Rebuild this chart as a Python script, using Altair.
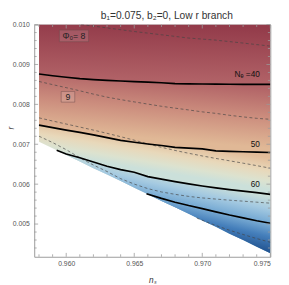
import altair as alt
import pandas as pd

# ---------------- data ----------------
ns_grid = [0.958, 0.959, 0.960, 0.961, 0.962, 0.963, 0.964, 0.965, 0.966,
           0.967, 0.968, 0.969, 0.970, 0.971, 0.972, 0.973, 0.974, 0.975]
r_top = [0.010] * 18
r_edge = [0.00706, 0.00690, 0.00673, 0.00657, 0.00640, 0.00624, 0.00608, 0.00591, 0.00575,
          0.00558, 0.00542, 0.00526, 0.00509, 0.00493, 0.00476, 0.00460, 0.00443, 0.00427]
r_ne40 = [0.008762, 0.008717, 0.008679, 0.008645, 0.008619, 0.008600, 0.008586, 0.008571, 0.008557,
          0.008543, 0.008521, 0.008514, 0.008510, 0.008507, 0.008505, 0.008502, 0.008500, 0.008500]
r_ne50 = [0.007479, 0.007417, 0.007355, 0.007298, 0.007236, 0.007167, 0.007098, 0.007050, 0.007007,
          0.006969, 0.006921, 0.006902, 0.006883, 0.006836, 0.006821, 0.006812, 0.006802, 0.006793]
ns_ne60 = [0.9593, 0.960, 0.961, 0.962, 0.963, 0.964, 0.965, 0.966, 0.967,
           0.968, 0.969, 0.970, 0.971, 0.972, 0.973, 0.974, 0.975]
r_ne60 = [0.006850, 0.006757, 0.006662, 0.006555, 0.006448, 0.006364, 0.006298, 0.006190, 0.006126,
          0.006064, 0.006007, 0.005955, 0.005907, 0.005864, 0.005826, 0.005788, 0.005745]
ns_ne70 = [0.9659, 0.967, 0.968, 0.969, 0.970, 0.971, 0.972, 0.973, 0.974, 0.975]
r_ne70 = [0.005760, 0.005643, 0.005548, 0.005464, 0.005388, 0.005305, 0.005226, 0.005155, 0.005083, 0.005019]

ns_phi8 = [0.9611, 0.963, 0.965, 0.967, 0.969, 0.971, 0.973, 0.975]
r_phi8 = [0.010000, 0.009917, 0.009826, 0.009745, 0.009662, 0.009610, 0.009536, 0.009460]
r_phi9 = [0.008574, 0.008495, 0.008419, 0.008340, 0.008257, 0.008181, 0.008119, 0.008062, 0.008007,
          0.007952, 0.007905, 0.007860, 0.007812, 0.007774, 0.007726, 0.007686, 0.007650, 0.007626]
r_phi10 = [0.007662, 0.007583, 0.007507, 0.007431, 0.007355, 0.007274, 0.007190, 0.007102, 0.007007,
           0.006924, 0.006845, 0.006774, 0.006707, 0.006645, 0.006586, 0.006526, 0.006464, 0.006400]
r_phi11 = [0.007202, 0.007043, 0.006864, 0.006662, 0.006479, 0.006317, 0.006138, 0.006002, 0.005888,
           0.005805, 0.005745, 0.005693, 0.005655, 0.005626, 0.005598, 0.005574, 0.005548, 0.005524]
ns_phi12 = [0.9696, 0.970, 0.971, 0.972, 0.973, 0.974, 0.975]
r_phi12 = [0.005150, 0.005095, 0.004964, 0.004845, 0.004738, 0.004636, 0.004543]

ne_text = ["N\u2091 =40", "50", "60"]
ne_ns = [0.9733, 0.9739, 0.9739]
ne_r = [0.008762, 0.007007, 0.006000]
phi_text = ["\u03a6\u2080= 8", "9"]
phi_ns = [0.96057, 0.96013]
phi_r = [0.009717, 0.008190]

x_major = [0.960, 0.965, 0.970, 0.975]
x_minor = [0.958, 0.959, 0.961, 0.962, 0.963, 0.964, 0.966, 0.967, 0.968, 0.969,
           0.971, 0.972, 0.973, 0.974]
y_major = [0.005, 0.006, 0.007, 0.008, 0.009, 0.010]
y_minor = [0.0044, 0.0046, 0.0048, 0.0052, 0.0054, 0.0056, 0.0058, 0.0062, 0.0064, 0.0066,
           0.0068, 0.0072, 0.0074, 0.0076, 0.0078, 0.0082, 0.0084, 0.0086, 0.0088, 0.0092,
           0.0094, 0.0096, 0.0098]

# ---------------- layout / style ----------------
W, H = 243, 239
FONT = "Liberation Sans"
FRAME = "#9a9a9a"
xs = alt.Scale(domain=[0.95765, 0.975], nice=False, zero=False)
ys = alt.Scale(domain=[0.00418, 0.010], nice=False, zero=False)

AX = alt.Axis(values=x_major, format=".3f", title="n\u209b", ticks=False, domain=False,
              grid=False, labelFontSize=7, labelPadding=3, labelColor="#555",
              labelFont=FONT, titleFont=FONT, titleFontSize=8.5,
              titleFontStyle="italic", titleFontWeight="normal", titleColor="#333",
              titleY=23, titleBaseline="middle")
AY = alt.Axis(values=y_major, format=".3f", title="r", ticks=False, domain=False,
              grid=False, labelFontSize=7, labelPadding=5, labelColor="#555",
              labelFont=FONT, titleFont=FONT, titleFontSize=8.5,
              titleFontStyle="italic", titleFontWeight="normal", titleColor="#333",
              titleX=-24, titleY=106, titleAngle=270, titleAlign="center",
              titleBaseline="middle")


def X():
    return alt.X("ns:Q", scale=xs, axis=AX, title="n\u209b")


def Y():
    return alt.Y("r:Q", scale=ys, axis=AY, title="r")


def band_gradient(xv, top, bot, line0, line1, stops):
    x0, x1 = min(xv), max(xv)
    rmax, rmin = max(top + bot), min(top + bot)

    def nz(p):
        return ((p[0] - x0) / (x1 - x0), (rmax - p[1]) / (rmax - rmin))

    a0, b0 = nz(line0[0]), nz(line0[-1])
    s = (b0[1] - a0[1]) / (b0[0] - a0[0])
    m0 = ((a0[0] + b0[0]) / 2, (a0[1] + b0[1]) / 2)
    if len(line1) > 1:
        a1, b1 = nz(line1[0]), nz(line1[-1])
        s = (s + (b1[1] - a1[1]) / (b1[0] - a1[0])) / 2
        m1 = ((a1[0] + b1[0]) / 2, (a1[1] + b1[1]) / 2)
    else:
        m1 = nz(line1[0])
    d = (-s, 1.0)
    k = ((m1[0] - m0[0]) * d[0] + (m1[1] - m0[1]) * d[1]) / (1 + s * s)
    return alt.LinearGradient(
        gradient="linear",
        stops=[alt.GradientStop(color=c, offset=o) for o, c in stops],
        x1=m0[0], y1=m0[1], x2=m0[0] + k * d[0], y2=m0[1] + k * d[1])


def band(xv, top, bot, line0, line1, stops):
    df = pd.DataFrame({"ns": xv, "r": top, "r2": bot})
    g = band_gradient(xv, top, bot, line0, line1, stops)
    return alt.Chart(df).mark_area(fill=g, clip=True).encode(x=X(), y=Y(), y2="r2:Q")


pts = lambda a, b: list(zip(a, b))

bandA = band(ns_grid, r_top, r_ne40, pts(ns_grid, r_top), pts(ns_grid, r_ne40),
             [(0, "#933b4a"), (1, "#b06166")])
bandB = band(ns_grid, r_ne40, r_ne50, pts(ns_grid, r_ne40), pts(ns_grid, r_ne50),
             [(0, "#b26467"), (0.5, "#cc8e7e"), (1, "#e0b896")])
bandC = band(ns_grid, r_ne50, r_edge, pts(ns_grid, r_ne50), pts(ns_ne60, r_ne60),
             [(0, "#e2bc99"), (0.42, "#e8d8ba"), (0.75, "#dce2cf"), (1, "#cbe0da")])
bot60 = [r_ne60[0]] + r_edge[2:]
bandD = band(ns_ne60, r_ne60, bot60, pts(ns_ne60, r_ne60), pts(ns_ne70, r_ne70),
             [(0, "#cde0d8"), (0.5, "#a5cae1"), (1, "#78abd4")])
bot70 = [r_ne70[0]] + r_edge[9:]
bandE = band(ns_ne70, r_ne70, bot70, pts(ns_ne70, r_ne70), [(ns_grid[-1], r_edge[-1])],
             [(0, "#7eafd5"), (0.45, "#457fbb"), (1, "#21528f")])

# contour lines
solid_df = pd.concat([
    pd.DataFrame({"ns": ns_grid, "r": r_ne40, "c": "40"}),
    pd.DataFrame({"ns": ns_grid, "r": r_ne50, "c": "50"}),
    pd.DataFrame({"ns": ns_ne60, "r": r_ne60, "c": "60"}),
    pd.DataFrame({"ns": ns_ne70, "r": r_ne70, "c": "70"}),
])
dash_df = pd.concat([
    pd.DataFrame({"ns": ns_phi8, "r": r_phi8, "c": "8"}),
    pd.DataFrame({"ns": ns_grid, "r": r_phi9, "c": "9"}),
    pd.DataFrame({"ns": ns_grid, "r": r_phi10, "c": "10"}),
    pd.DataFrame({"ns": ns_grid, "r": r_phi11, "c": "11"}),
    pd.DataFrame({"ns": ns_phi12, "r": r_phi12, "c": "12"}),
])
solid = alt.Chart(solid_df).mark_line(color="#000", strokeWidth=1.7, clip=True).encode(
    x=X(), y=Y(), detail="c:N")
dashed = alt.Chart(dash_df).mark_line(color="#444", strokeWidth=0.8, strokeDash=[3, 2.5],
                                      opacity=0.85, clip=True).encode(
    x=X(), y=Y(), detail="c:N")

# labels
ne_df = pd.DataFrame({"ns": ne_ns, "r": ne_r, "t": ne_text})
ne_lab = alt.Chart(ne_df).mark_text(font=FONT, fontSize=8.5, color="#111").encode(
    x=X(), y=Y(), text="t:N")
phi_df = pd.DataFrame({"ns": phi_ns, "r": phi_r, "t": phi_text})
box8 = alt.Chart(phi_df.iloc[[0]]).mark_point(
    shape="M-1,-0.4L1,-0.4L1,0.4L-1,0.4Z", size=900, filled=True, fill="#ffffff",
    fillOpacity=0.12, stroke="#6e4b4b", strokeWidth=0.6, strokeOpacity=0.8, opacity=1).encode(
    x=X(), y=Y())
box9 = alt.Chart(phi_df.iloc[[1]]).mark_point(
    shape="M-1,-0.786L1,-0.786L1,0.786L-1,0.786Z", size=196, filled=True, fill="#ffffff",
    fillOpacity=0.12, stroke="#6e4b4b", strokeWidth=0.6, strokeOpacity=0.8, opacity=1).encode(
    x=X(), y=Y())
phi_lab = alt.Chart(phi_df).mark_text(font=FONT, fontSize=9, color="#222").encode(
    x=X(), y=Y(), text="t:N")


# inward frame ticks
def xticks(vals, length, top):
    y0, y1 = (0, length) if top else (H, H - length)
    return alt.Chart(pd.DataFrame({"ns": vals})).mark_rule(color=FRAME, strokeWidth=0.8).encode(
        x=X(), y=alt.value(y0), y2=alt.value(y1))


def yticks(vals, length, right):
    x0, x1 = (W, W - length) if right else (0, length)
    return alt.Chart(pd.DataFrame({"r": vals})).mark_rule(color=FRAME, strokeWidth=0.8).encode(
        y=Y(), x=alt.value(x0), x2=alt.value(x1))


ticks = [xticks(x_major, 4, False), xticks(x_major, 4, True),
         xticks(x_minor, 2.5, False), xticks(x_minor, 2.5, True),
         yticks(y_major, 4, False), yticks(y_major, 4, True),
         yticks(y_minor, 2.5, False), yticks(y_minor, 2.5, True)]

chart = alt.layer(
    bandA, bandB, bandC, bandD, bandE, dashed, solid, box8, box9, phi_lab, ne_lab, *ticks
).properties(
    width=W, height=H,
    padding={"left": 27, "top": 13, "right": 11, "bottom": 25},
    autosize=alt.AutoSizeParams(type="none"),
    title=alt.TitleParams(text="b\u2081=0.075, b\u2082=0, Low r branch", font=FONT, fontSize=10.5,
                          fontWeight="normal", color="#333", anchor="middle", frame="group",
                          dx=15, dy=4, offset=3),
).configure_view(stroke=FRAME, strokeWidth=1)

chart.save("out.html", embed_options={"renderer": "svg", "actions": False})
